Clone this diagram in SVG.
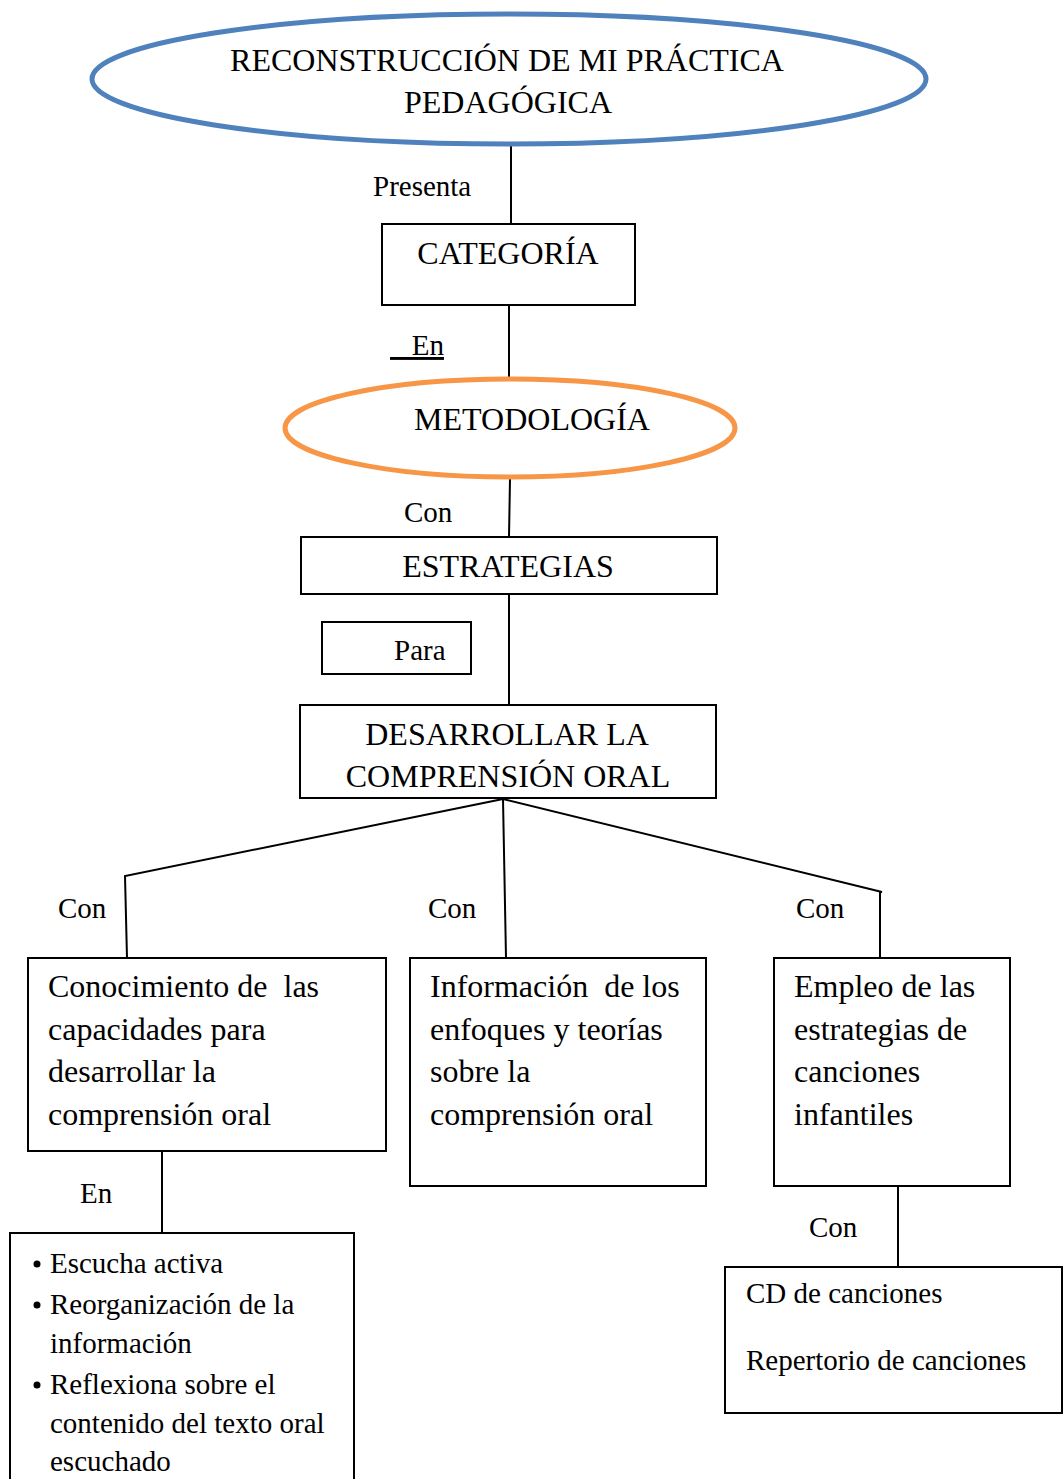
<svg xmlns="http://www.w3.org/2000/svg" width="1064" height="1479" viewBox="0 0 1064 1479">
<style>
text{font-family:"Liberation Serif","Times New Roman",serif;fill:#000}
.big{font-size:32px}
.lbl{font-size:29px}
.body{font-size:32px}
.sm{font-size:29px}
.box{fill:#fff;stroke:#000;stroke-width:2}
.con{fill:none;stroke:#000;stroke-width:2}
</style>
<rect width="1064" height="1479" fill="#fff"/>
<g id="connectors">
<line class="con" x1="511" y1="146" x2="511" y2="224"/>
<line class="con" x1="509" y1="305" x2="509" y2="378"/>
<line class="con" x1="510" y1="479" x2="509" y2="537"/>
<line class="con" x1="509" y1="594" x2="509" y2="705"/>
<polyline class="con" points="503,799 125,876 127,958"/>
<line class="con" x1="503" y1="799" x2="506" y2="958"/>
<polyline class="con" points="503,799 882,892 880,892 880,958"/>
<line class="con" x1="162" y1="1150" x2="162" y2="1233"/>
<line class="con" x1="898" y1="1183" x2="898" y2="1267"/>
<text class="lbl" x="373" y="196">Presenta</text>
<text class="lbl" x="390" y="355" xml:space="preserve" style="white-space:pre" text-decoration="underline">   En</text>
<text class="lbl" x="404" y="522">Con</text>
<text class="lbl" x="58" y="918">Con</text>
<text class="lbl" x="428" y="918">Con</text>
<text class="lbl" x="796" y="918">Con</text>
<text class="lbl" x="80" y="1203">En</text>
<text class="lbl" x="809" y="1237">Con</text>
</g>
<g id="node-reconstruccion">
<ellipse cx="509" cy="79" rx="417" ry="65" fill="#fff" stroke="#4F81BD" stroke-width="5"/>
<text class="big" x="507" y="71" text-anchor="middle">RECONSTRUCCIÓN DE MI PRÁCTICA</text>
<text class="big" x="508" y="113" text-anchor="middle">PEDAGÓGICA</text>
</g>
<g id="node-categoria">
<rect class="box" x="382" y="224" width="253" height="81"/>
<text class="big" x="508" y="264" text-anchor="middle">CATEGORÍA</text>
</g>
<g id="node-metodologia">
<ellipse cx="510" cy="428" rx="225" ry="49" fill="#fff" stroke="#F79646" stroke-width="5"/>
<text class="big" x="532" y="430" text-anchor="middle">METODOLOGÍA</text>
</g>
<g id="node-estrategias">
<rect class="box" x="301" y="537" width="416" height="57"/>
<text class="big" x="508" y="577" text-anchor="middle">ESTRATEGIAS</text>
</g>
<g id="node-para">
<rect class="box" x="322" y="622" width="149" height="52"/>
<text class="lbl" x="394" y="660">Para</text>
</g>
<g id="node-desarrollar">
<rect class="box" x="300" y="705" width="416" height="93"/>
<text class="big" x="507" y="745" text-anchor="middle">DESARROLLAR LA</text>
<text class="big" x="508" y="787" text-anchor="middle">COMPRENSIÓN ORAL</text>
</g>
<g id="node-conocimiento">
<rect class="box" x="28" y="958" width="358" height="193"/>
<text class="body" x="48" y="997" xml:space="preserve" style="white-space:pre">Conocimiento de  las</text>
<text class="body" x="48" y="1040">capacidades para</text>
<text class="body" x="48" y="1082">desarrollar la</text>
<text class="body" x="48" y="1125">comprensión oral</text>
</g>
<g id="node-informacion">
<rect class="box" x="410" y="958" width="296" height="228"/>
<text class="body" x="430" y="997" xml:space="preserve" style="white-space:pre">Información  de los</text>
<text class="body" x="430" y="1040">enfoques y teorías</text>
<text class="body" x="430" y="1082">sobre la</text>
<text class="body" x="430" y="1125">comprensión oral</text>
</g>
<g id="node-empleo">
<rect class="box" x="774" y="958" width="236" height="228"/>
<text class="body" x="794" y="997">Empleo de las</text>
<text class="body" x="794" y="1040">estrategias de</text>
<text class="body" x="794" y="1082">canciones</text>
<text class="body" x="794" y="1125">infantiles</text>
</g>
<g id="node-escucha">
<rect class="box" x="10" y="1233" width="344" height="260"/>
<circle cx="37" cy="1264" r="3.5"/>
<circle cx="37" cy="1305" r="3.5"/>
<circle cx="37" cy="1385" r="3.5"/>
<text class="sm" x="50" y="1273">Escucha activa</text>
<text class="sm" x="50" y="1314">Reorganización de la</text>
<text class="sm" x="50" y="1353">información</text>
<text class="sm" x="50" y="1394">Reflexiona sobre el</text>
<text class="sm" x="50" y="1433">contenido del texto oral</text>
<text class="sm" x="50" y="1471">escuchado</text>
</g>
<g id="node-cd">
<rect class="box" x="725" y="1267" width="337" height="146"/>
<text class="sm" x="746" y="1303">CD de canciones</text>
<text class="sm" x="746" y="1370">Repertorio de canciones</text>
</g>
</svg>
